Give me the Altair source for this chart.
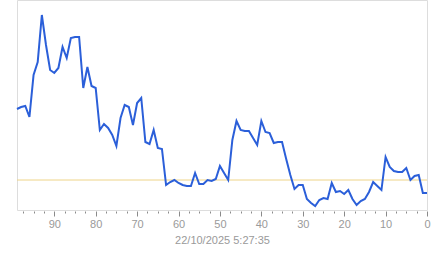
import altair as alt
import pandas as pd

# x positions (seconds ago), 99 down to 0
ages = list(range(99, -1, -1))
values = [
    101, 103, 104, 93, 135, 148, 195, 165, 140, 137,
    142, 163, 152, 172, 173, 173, 122, 143, 124, 122,
    80, 86, 82, 75, 64, 92, 105, 103, 85, 107,
    112, 68, 66, 80, 62, 61, 25, 28, 30, 27,
    25, 24, 24, 37, 26, 26, 30, 29, 31, 44,
    37, 30, 70, 89, 80, 79, 79, 72, 65, 89,
    78, 77, 67, 68, 68, 51, 35, 21, 25, 25,
    11, 7, 4, 10, 12, 11, 27, 18, 19, 16,
    20, 11, 5, 9, 11, 18, 28, 24, 20, 53,
    43, 39, 38, 38, 42, 30, 34, 35, 17, 17,
]
reference_level = [30]
tick_values = [i * 2.5 for i in range(0, 40)]
title_text = "22/10/2025 5:27:35"

df = pd.DataFrame({"age": ages, "value": values})
ref = pd.DataFrame({"level": reference_level})

xscale = alt.Scale(domain=[99, 0], nice=False, zero=False)
yscale = alt.Scale(domain=[0, 210], nice=False, zero=False)

xaxis = alt.Axis(
    values=tick_values,
    labelExpr="datum.value % 10 === 0 ? datum.label : ''",
    tickSize={"condition": {"test": "datum.value % 10 === 0", "value": 5}, "value": 2},
    tickColor="#8a8a8a",
    offset=1,
    domain=False,
    grid=False,
    labelColor="#9a9a9a",
    labelFont="Liberation Sans",
    labelFontSize=11,
    labelPadding=2,
    labelFlush=False,
    title=title_text,
    titleColor="#9a9a9a",
    titleFont="Liberation Sans",
    titleFontSize=11,
    titleFontWeight="normal",
    titlePadding=5,
)

line = alt.Chart(df).mark_line(color="#2b5fd9", strokeWidth=2).encode(
    x=alt.X("age:Q", scale=xscale, axis=xaxis),
    y=alt.Y("value:Q", scale=yscale, axis=None),
)

rule = alt.Chart(ref).mark_rule(color="#eed488", strokeWidth=1).encode(
    y=alt.Y("level:Q", scale=yscale, axis=None),
)

chart = alt.layer(rule, line).properties(
    width=410,
    height=210,
    autosize=alt.AutoSizeParams(type="none"),
    padding={"left": 17, "top": 0, "right": 16, "bottom": 48},
).configure_view(strokeWidth=0, strokeOpacity=0).configure(background="white")

chart.save("out.html", embed_options={"renderer": "svg", "actions": False})
